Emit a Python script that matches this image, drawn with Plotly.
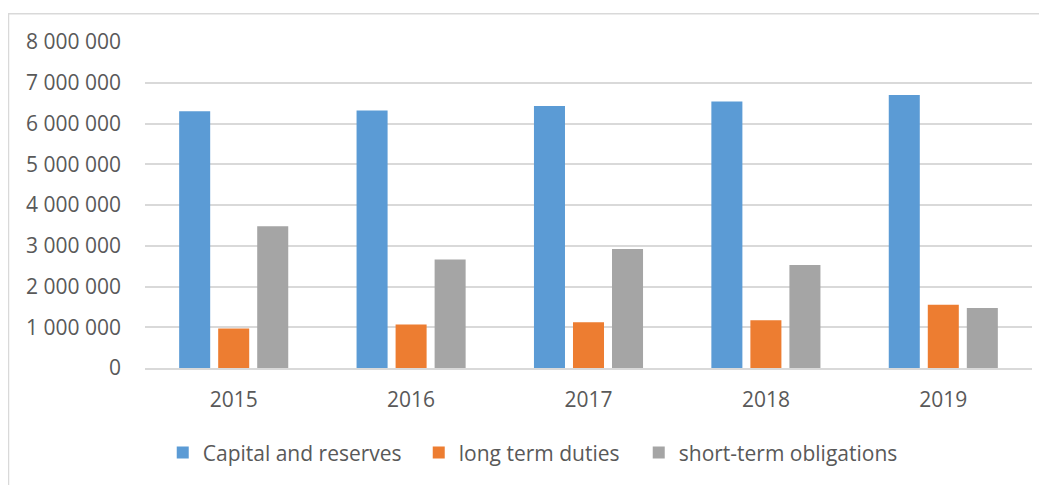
import plotly.graph_objects as go

years = ["2015", "2016", "2017", "2018", "2019"]
capital_and_reserves = [6300000, 6320000, 6430000, 6540000, 6700000]
long_term_duties = [970000, 1070000, 1120000, 1170000, 1550000]
short_term_obligations = [3480000, 2660000, 2920000, 2530000, 1470000]

series_names = ["Capital and reserves", "long term duties", "short-term obligations"]
colors = ["#5B9BD5", "#ED7D31", "#A5A5A5"]
legend_widths = [211, 175, 230]

FONT = "Open Sans"
TXT = "#595959"
GRID = "#D9D9D9"

fig = go.Figure()
for name, vals, col, lw in zip(series_names,
                               [capital_and_reserves, long_term_duties, short_term_obligations],
                               colors, legend_widths):
    fig.add_trace(go.Bar(x=years, y=vals, name=name, marker_color=col,
                         marker_line_width=0, legendwidth=lw))

# page body has an 8px default margin; size the figure to compensate
fig.update_layout(
    width=1039, height=477,
    margin=dict(l=137, r=15, t=34, b=108),
    paper_bgcolor="white", plot_bgcolor="white",
    barmode="group", bargap=0.34, bargroupgap=0.205,
    separators=". ",
    font=dict(family=FONT, size=21, color=TXT),
    showlegend=True,
    legend=dict(orientation="h", x=0.02, xanchor="left", y=-0.26, yanchor="middle",
                font=dict(family=FONT, size=21, color=TXT), bgcolor="rgba(0,0,0,0)"),
    xaxis=dict(showgrid=False, showline=True, linecolor=GRID, linewidth=1.5,
               ticks="", ticklabelstandoff=12, tickfont=dict(family=FONT, size=21, color=TXT)),
    yaxis=dict(range=[0, 8000000], tickvals=[i * 1000000 for i in range(9)],
               tickformat=",d", showgrid=True, gridcolor=GRID, gridwidth=1.5,
               zeroline=False, showline=False, ticks="", ticklabelstandoff=23,
               tickfont=dict(family=FONT, size=21, color=TXT)),
)

fig.add_shape(type="rect", xref="paper", yref="paper",
              x0=(8.5 - 145) / 887, x1=1.05, y0=-0.5, y1=(368.7 - 14) / 326.4,
              line=dict(color=GRID, width=1.5), fillcolor="rgba(0,0,0,0)", layer="below")

fig.write_html("out.html")
